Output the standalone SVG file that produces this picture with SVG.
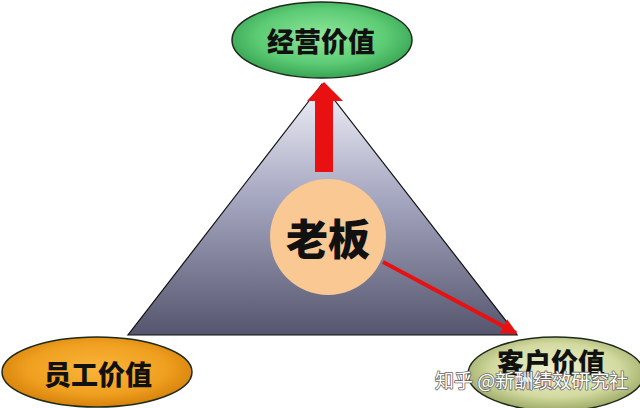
<svg xmlns="http://www.w3.org/2000/svg" width="640" height="408" viewBox="0 0 640 408">
<defs>
<linearGradient id="tri" x1="0" y1="0" x2="0" y2="1">
<stop offset="0" stop-color="#f2f2fb"/>
<stop offset="0.45" stop-color="#a6a7c0"/>
<stop offset="1" stop-color="#55566e"/>
</linearGradient>
<radialGradient id="green" cx="0.5" cy="0.45" r="0.6">
<stop offset="0" stop-color="#8fe79a"/>
<stop offset="0.6" stop-color="#5ccb74"/>
<stop offset="1" stop-color="#2f9a4c"/>
</radialGradient>
<radialGradient id="orange" cx="0.5" cy="0.45" r="0.6">
<stop offset="0" stop-color="#f9b43a"/>
<stop offset="0.6" stop-color="#f0a020"/>
<stop offset="1" stop-color="#cf7a06"/>
</radialGradient>
<radialGradient id="olive" cx="0.5" cy="0.45" r="0.6">
<stop offset="0" stop-color="#eef0cf"/>
<stop offset="0.6" stop-color="#d3daa0"/>
<stop offset="1" stop-color="#8f9e58"/>
</radialGradient>
<marker id="ah" viewBox="0 0 10 10" refX="9" refY="5" markerWidth="4" markerHeight="4" orient="auto">
<path d="M0,0 L10,5 L0,10 z" fill="#e81010"/>
</marker>
<style>
.lbl{font-family:"Noto Sans CJK SC","Noto Sans CJK JP",sans-serif;font-weight:900;fill:#111;text-anchor:middle;dominant-baseline:central}
.ell{stroke:#1e2a1a;stroke-width:1.5}
</style>
</defs>
<g id="triangle">
<polygon points="322,84 128,335 517,335" fill="url(#tri)" stroke="#111" stroke-width="1.2"/>
</g>
<g id="connectors">
<polygon points="315,172 333,172 333,101 343,101 324,82 307,101 315,101" fill="#e81010"/>
<line x1="383" y1="262" x2="516" y2="333" stroke="#e81010" stroke-width="4" marker-end="url(#ah)"/>
</g>
<g id="boss">
<circle cx="328" cy="237" r="58" fill="#f9c893"/>
<text class="lbl" x="328" y="236" font-size="42">老板</text>
</g>
<g id="top">
<ellipse class="ell" cx="322" cy="40" rx="90" ry="38" fill="url(#green)"/>
<text class="lbl" x="321" y="40" font-size="27">经营价值</text>
</g>
<g id="left">
<ellipse class="ell" cx="97" cy="372" rx="95" ry="35" fill="url(#orange)"/>
<text class="lbl" x="98" y="373" font-size="27">员工价值</text>
</g>
<g id="right">
<ellipse class="ell" cx="556" cy="374" rx="88" ry="37" fill="url(#olive)"/>
<text class="lbl" x="551" y="361" font-size="27">客户价值</text>
</g>
<text x="435" y="388" font-family="Noto Sans CJK SC, sans-serif" font-size="19" fill="#fff" stroke="#666" stroke-width="1.6" paint-order="stroke" stroke-linejoin="round">知乎 @新酬绩效研究社</text>
</svg>
